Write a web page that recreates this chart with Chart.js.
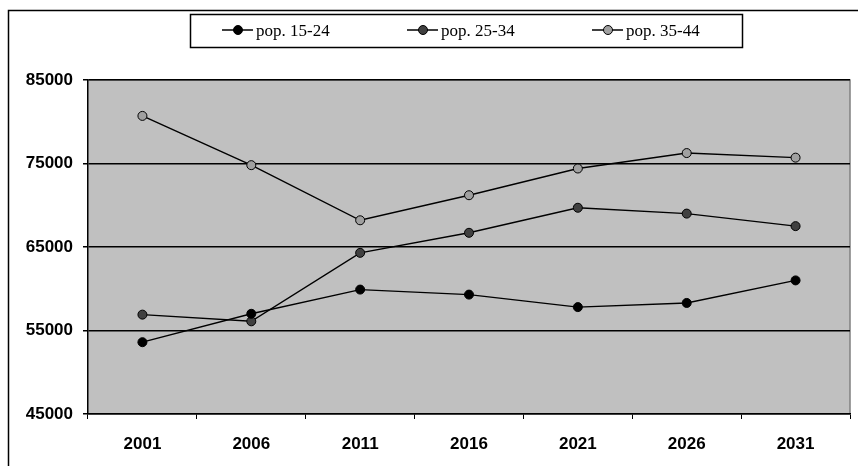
<!DOCTYPE html>
<html>
<head>
<meta charset="utf-8">
<script src="https://cdn.jsdelivr.net/npm/chart.js@4"></script>
<style>
  html, body { margin: 0; padding: 0; background: #fff; }
  #wrap { position: relative; width: 858px; height: 466px; }
</style>
</head>
<body>
<div id="wrap"><canvas id="c" width="858" height="466"></canvas></div>
<script>
// Population projections by age group, 2001-2031
const years = ['2001', '2006', '2011', '2016', '2021', '2026', '2031'];
const pop15to24 = [53600, 57000, 59900, 59300, 57800, 58300, 61000];
const pop25to34 = [56900, 56100, 64300, 66700, 69700, 69000, 67500];
const pop35to44 = [80700, 74800, 68200, 71200, 74400, 76250, 75700];
const seriesNames = ['pop. 15-24', 'pop. 25-34', 'pop. 35-44'];
const yTicks = [45000, 55000, 65000, 75000, 85000];

const markerFills = ['#000000', '#404040', '#a0a0a0'];

// Grey plot background, frame lines and the boxed legend
const decor = {
  id: 'decor',
  beforeDraw(chart) {
    const { ctx, chartArea: a } = chart;
    ctx.save();
    ctx.fillStyle = '#c0c0c0';
    ctx.fillRect(a.left, a.top, a.right - a.left, a.bottom - a.top);
    // grey edge on top and right of the plot area
    ctx.strokeStyle = '#808080';
    ctx.lineWidth = 1.5;
    ctx.beginPath();
    ctx.moveTo(a.left, a.top);
    ctx.lineTo(a.right, a.top);
    ctx.lineTo(a.right, a.bottom);
    ctx.stroke();
    // outer frame
    ctx.strokeStyle = '#000';
    ctx.lineWidth = 1.5;
    ctx.beginPath();
    ctx.moveTo(8.5, 466);
    ctx.lineTo(8.5, 10.5);
    ctx.lineTo(858, 10.5);
    ctx.stroke();
    ctx.restore();
  },
  afterDraw(chart) {
    const { ctx } = chart;
    ctx.save();
    // legend box
    ctx.strokeStyle = '#000';
    ctx.lineWidth = 1.5;
    ctx.strokeRect(190.5, 14.5, 552, 33);
    const centers = [238, 423, 608];
    ctx.font = '17px "Liberation Serif", "Times New Roman", serif';
    ctx.textBaseline = 'alphabetic';
    ctx.textAlign = 'left';
    chart.data.datasets.forEach((ds, i) => {
      const cx = centers[i], cy = 30;
      ctx.strokeStyle = '#000';
      ctx.lineWidth = 1.5;
      ctx.beginPath();
      ctx.moveTo(cx - 16, cy);
      ctx.lineTo(cx + 15, cy);
      ctx.stroke();
      ctx.lineWidth = 1;
      ctx.beginPath();
      ctx.arc(cx, cy, 4.5, 0, Math.PI * 2);
      ctx.fillStyle = ds.pointBackgroundColor;
      ctx.fill();
      ctx.stroke();
      ctx.fillStyle = '#000';
      ctx.fillText(ds.label, cx + 18, 36);
    });
    ctx.restore();
  }
};

const series = [pop15to24, pop25to34, pop35to44];
const datasets = series.map((vals, i) => ({
  label: seriesNames[i],
  data: vals,
  borderColor: '#000',
  borderWidth: 1.4,
  pointRadius: 4.5,
  pointHoverRadius: 4.5,
  pointBackgroundColor: markerFills[i],
  pointBorderColor: '#000',
  pointBorderWidth: 1,
  tension: 0
}));

new Chart(document.getElementById('c'), {
  type: 'line',
  data: { labels: years, datasets },
  options: {
    responsive: false,
    animation: false,
    events: [],
    layout: { padding: { left: 0, top: 80, right: 8, bottom: 0 } },
    plugins: { legend: { display: false }, tooltip: { enabled: false } },
    scales: {
      x: {
        offset: true,
        grid: { offset: true, drawOnChartArea: false, drawTicks: true, tickLength: 5, color: '#000', lineWidth: 1 },
        border: { color: '#000', width: 1.5 },
        ticks: {
          color: '#000', padding: 15,
          font: { family: '"Liberation Sans", Arial, sans-serif', size: 17, weight: 'bold' }
        },
        afterFit(scale) { scale.height = 52; }
      },
      y: {
        min: 45000, max: 85000,
        afterBuildTicks(scale) { scale.ticks = yTicks.map(v => ({ value: v })); },
        grid: { color: '#000', lineWidth: 1.5, tickLength: 5, drawTicks: true },
        border: { color: '#000', width: 1.5 },
        ticks: {
          color: '#000', padding: 10,
          font: { family: '"Liberation Sans", Arial, sans-serif', size: 17, weight: 'bold' },
          callback: v => String(v)
        },
        afterFit(scale) { scale.width = 88; }
      }
    }
  },
  plugins: [decor]
});
</script>
</body>
</html>
